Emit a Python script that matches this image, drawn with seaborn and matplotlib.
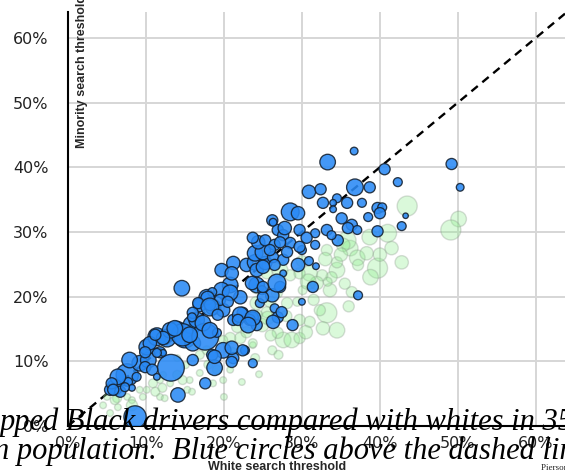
import matplotlib
matplotlib.use("Agg")
import matplotlib.pyplot as plt
import pandas as pd
import seaborn as sns
from matplotlib.ticker import FuncFormatter

# Search thresholds (%) per agency: white drivers (x) vs. minority drivers (y);
# the third list is the relative agency size used for the bubble area.
black_white = [
    8.6, 14.1, 13.2, 17.6, 7.6, 6.0, 5.4, 6.7, 7.7, 8.2, 8.8, 9.2, 10.3, 10.1, 9.9,
    10.8, 11.8, 11.4, 12.7, 12.2, 14.0, 15.0, 15.9, 16.0, 16.5, 11.4, 14.6, 17.8, 16.9,
    18.6, 19.9, 16.0, 20.8, 22.1, 22.4, 21.2, 23.7, 24.2, 14.7, 17.6, 17.3, 13.1, 12.2,
    10.5, 19.1, 19.9, 18.5, 21.2, 22.7, 23.7, 16.0, 18.8, 6.4, 5.6, 5.8, 7.3, 7.9, 9.9,
    11.4, 19.7, 21.2, 21.0, 22.9, 24.0, 24.2, 25.3, 24.0, 25.0, 24.4, 25.3, 26.5, 26.9,
    27.6, 26.3, 27.6, 26.5, 27.6, 26.2, 19.7, 20.8, 18.5, 17.9, 19.5, 20.5, 16.7, 18.2,
    15.9, 22.1, 21.8, 23.3, 24.2, 24.9, 26.2, 27.2, 26.5, 26.9, 24.6, 13.7, 15.6, 18.2,
    11.2, 36.7, 33.3, 40.6, 36.8, 38.7, 30.9, 32.4, 32.7, 34.5, 34.0, 35.8, 34.0, 37.7,
    39.7, 35.1, 38.5, 36.4, 35.9, 37.1, 39.7, 28.5, 29.5, 26.3, 27.8, 29.7, 33.2, 34.6,
    33.8, 31.7, 30.6, 31.7, 28.5, 27.2, 30.0, 28.1, 42.3, 50.3, 49.2, 43.3, 42.8, 40.3,
    40.0, 37.2, 31.4, 30.0, 27.4, 26.3, 28.8, 25.0, 26.8, 23.6, 18.2, 23.7, 23.1, 19.2,
    21.0, 22.4, 18.8, 21.0, 29.5, 30.9, 31.8, 23.7, 25.9, 29.7, 25.0, 25.0,
]
black_minority = [
    1.4, 4.8, 9.0, 6.6, 7.9, 6.0, 5.6, 5.3, 6.8, 5.9, 7.6, 9.7, 10.2, 12.2, 9.1,
    8.7, 11.4, 13.8, 13.6, 11.3, 14.8, 13.8, 15.6, 12.8, 16.4, 7.6, 21.3, 19.9, 18.7,
    18.4, 17.9, 17.5, 21.8, 19.9, 17.5, 16.4, 16.8, 21.8, 14.1, 13.8, 15.9, 14.8, 13.6,
    12.8, 14.4, 11.7, 11.0, 10.5, 11.7, 9.7, 10.2, 9.0, 7.6, 6.6, 5.6, 6.0, 10.2, 11.4,
    11.3, 24.1, 25.2, 23.6, 24.9, 25.3, 24.1, 25.2, 26.7, 26.9, 28.4, 28.7, 28.0, 30.3,
    29.5, 26.1, 25.7, 24.9, 23.6, 31.8, 21.0, 20.6, 20.7, 19.8, 19.5, 19.2, 19.0, 18.7,
    16.8, 17.2, 16.4, 16.4, 15.6, 21.0, 20.2, 21.5, 18.2, 16.8, 19.0, 15.1, 14.1, 14.8,
    14.1, 42.5, 40.8, 39.7, 36.9, 36.9, 36.2, 36.6, 34.5, 35.2, 34.5, 34.5, 33.5, 34.5,
    33.7, 32.1, 32.3, 31.1, 30.6, 30.3, 30.1, 33.1, 32.9, 31.5, 30.6, 30.3, 30.3, 28.7,
    29.5, 29.8, 29.1, 28.0, 28.3, 28.4, 27.2, 26.9, 37.7, 36.9, 40.5, 32.5, 30.9, 33.8,
    32.9, 20.2, 21.5, 19.2, 17.6, 16.1, 15.6, 19.9, 22.1, 22.1, 18.4, 16.7, 15.6, 17.2,
    12.1, 11.7, 10.7, 9.9, 24.9, 25.5, 24.7, 29.1, 27.2, 27.7, 24.6, 21.5,
]
black_size = [
    100, 42, 144, 25, 100, 49, 25, 25, 16, 9, 16, 49, 49, 49, 25,
    25, 25, 64, 64, 9, 64, 100, 64, 49, 49, 9, 49, 49, 36,
    49, 36, 25, 49, 36, 25, 25, 25, 49, 100, 144, 49, 49, 36,
    36, 16, 49, 25, 25, 16, 16, 25, 49, 49, 25, 25, 16, 49, 25,
    16, 36, 36, 36, 36, 49, 36, 36, 49, 49, 36, 25, 25, 25,
    25, 25, 25, 25, 9, 25, 49, 49, 16, 36, 25, 25, 25, 25,
    16, 49, 25, 25, 25, 16, 36, 25, 16, 25, 16, 49, 49, 49,
    25, 12, 49, 25, 56, 25, 36, 25, 25, 16, 9, 25, 9, 16,
    25, 25, 16, 25, 25, 16, 25, 64, 36, 12, 36, 25, 25, 25,
    16, 16, 25, 16, 25, 25, 16, 25, 16, 12, 25, 6, 16, 16,
    25, 16, 25, 9, 25, 36, 25, 25, 64, 36, 64, 49, 49, 25,
    36, 25, 36, 25, 36, 16, 9, 25, 25, 25, 36, 25,
]

hisp_white = [
    43.5, 50.1, 49.1, 41.0, 38.7, 39.7, 40.0, 42.8, 36.2, 37.1, 38.3, 37.2, 34.5, 35.8,
    35.3, 33.8, 36.4, 33.2, 34.5, 32.7, 32.3, 31.0, 29.7, 27.6, 28.7, 29.7, 26.9, 26.2,
    23.7, 20.8, 22.1, 23.7, 28.1, 29.4, 31.0, 32.6, 33.6, 31.9, 26.8, 25.9, 24.2, 25.5,
    24.4, 24.2, 25.5, 28.5, 30.1, 33.2, 34.5, 30.8, 29.7, 27.2, 33.3, 22.3, 18.6, 20.8,
    19.1, 19.9, 16.9, 15.6, 15.3, 13.1, 11.8, 10.9, 9.2, 7.6, 6.3, 9.6, 11.8, 12.2,
    14.0, 5.0, 6.0, 8.2, 11.2, 12.1, 12.4, 15.9, 14.7, 6.4, 5.4, 8.2, 4.5, 10.1,
    21.7, 22.9, 24.9, 25.6, 16.9, 17.8, 19.9, 15.1, 33.0, 35.5, 38.8, 36.0, 30.5,
    27.0, 24.0, 31.5, 28.0, 26.0, 35.0, 41.5, 21.0, 18.0, 14.0, 30.0, 20.0, 24.5,
]
hisp_minority = [
    34.0, 32.0, 30.3, 29.8, 29.2, 24.4, 26.5, 25.3, 27.5, 26.0, 26.7, 24.9, 24.1, 28.7,
    28.0, 23.0, 20.7, 17.5, 14.8, 15.1, 17.9, 16.1, 16.4, 13.3, 13.3, 13.6, 14.4, 11.7,
    12.5, 13.6, 13.6, 12.8, 19.0, 19.2, 23.6, 23.3, 21.0, 22.1, 20.6, 19.2, 19.0, 17.6,
    17.2, 21.3, 23.6, 23.3, 21.0, 27.2, 25.3, 22.3, 23.6, 24.1, 22.3, 6.8, 6.6, 8.7,
    8.7, 7.1, 8.2, 7.1, 5.6, 6.6, 7.1, 6.6, 5.6, 4.5, 4.3, 4.5, 4.5, 7.9,
    7.9, 4.5, 4.0, 4.0, 5.3, 5.9, 4.3, 5.3, 7.1, 2.9, 2.0, 3.2, 3.2, 5.6,
    15.3, 14.5, 15.6, 16.7, 11.0, 11.7, 13.3, 9.4, 25.8, 22.0, 23.0, 18.5, 14.5,
    11.0, 10.5, 19.5, 17.0, 14.0, 26.5, 27.5, 11.5, 9.5, 10.5, 25.5, 4.5, 8.0,
]
hisp_size = [
    81, 49, 81, 64, 49, 81, 36, 36, 49, 49, 36, 25, 49, 64,
    36, 25, 25, 81, 49, 36, 25, 25, 25, 49, 49, 25, 25, 16,
    9, 25, 25, 16, 25, 16, 49, 25, 36, 36, 25, 25, 36, 25,
    16, 25, 25, 25, 16, 25, 25, 49, 25, 49, 16, 9, 9, 9,
    16, 9, 9, 9, 9, 9, 9, 16, 9, 9, 16, 9, 9, 9,
    16, 9, 16, 9, 16, 16, 9, 9, 16, 9, 9, 25, 9, 9,
    25, 25, 36, 36, 16, 16, 16, 9, 36, 25, 49, 25, 36,
    16, 16, 25, 25, 25, 36, 36, 16, 16, 9, 25, 9, 9,
]

ticks = [0, 10, 20, 30, 40, 50, 60]

black = pd.DataFrame({"white": black_white, "minority": black_minority, "size": black_size})
hisp = pd.DataFrame({"white": hisp_white, "minority": hisp_minority, "size": hisp_size})

sns.set_theme(style="white")
plt.rcParams["font.family"] = ["DejaVu Sans"]

W, H = 565, 476
fig = plt.figure(figsize=(W / 100, H / 100), dpi=100)
ax = fig.add_axes([68 / W, 50 / H, 499 / W, 414 / H])

ax.set_xlim(0, 64)
ax.set_ylim(0, 64)
ax.set_xticks(ticks)
ax.set_yticks(ticks)
pct = FuncFormatter(lambda v, _: f"{v:.0f}%")
ax.xaxis.set_major_formatter(pct)
ax.yaxis.set_major_formatter(pct)
ax.grid(True, color="#d6d6d6", linewidth=1.4, zorder=0)
ax.set_axisbelow(True)
ax.tick_params(length=0, labelsize=11.5, labelcolor="#222222")
ax.tick_params(axis="y", pad=14)
ax.tick_params(axis="x", pad=7)
for side in ("top", "right"):
    ax.spines[side].set_visible(False)
for side in ("left", "bottom"):
    ax.spines[side].set_color("black")
    ax.spines[side].set_linewidth(1.5)

# y = x reference: equal thresholds for both groups
ax.plot([0, 64], [0, 64], color="black", linewidth=1.7,
        linestyle=(0, (3.5, 2.5)), zorder=1)

bubble_range = (0, 370)
sns.scatterplot(data=hisp, x="white", y="minority", size="size",
                sizes=bubble_range, size_norm=(0, 144), legend=False, ax=ax,
                color="#90ee90", edgecolor="#8a9a8a", linewidth=1.0,
                alpha=0.33, zorder=2)
sns.scatterplot(data=black, x="white", y="minority", size="size",
                sizes=bubble_range, size_norm=(0, 144), legend=False, ax=ax,
                color="#2a8af5", edgecolor="#14202e", linewidth=0.95,
                alpha=0.88, zorder=3)
ax.set_xlabel("")
ax.set_ylabel("")

# axis titles
fig.text(82 / W, 1 - 148 / H, "Minority search threshold", rotation=90,
         ha="center", va="bottom", fontsize=9, fontweight="bold",
         family=["Liberation Sans"])
fig.text(277 / W, 1 - 467 / H, "White search threshold", ha="center",
         va="center", fontsize=9, fontweight="bold", family=["Liberation Sans"])

# caption running across the bottom of the graphic
cap = dict(family=["Liberation Serif"], style="italic", fontsize=22,
           color="black", va="baseline", ha="left")
fig.text(0 / W, 1 - 430 / H, "pped Black drivers compared with whites in 35", **cap)
fig.text(-6 / W, 1 - 459 / H, "n population.  Blue circles above the dashed line", **cap)
fig.text(541 / W, 1 - 470 / H, "Pierson et al.", family=["Liberation Serif"],
         fontsize=6.5, color="#222222", ha="left", va="baseline")

fig.savefig("out.png", dpi=100)
